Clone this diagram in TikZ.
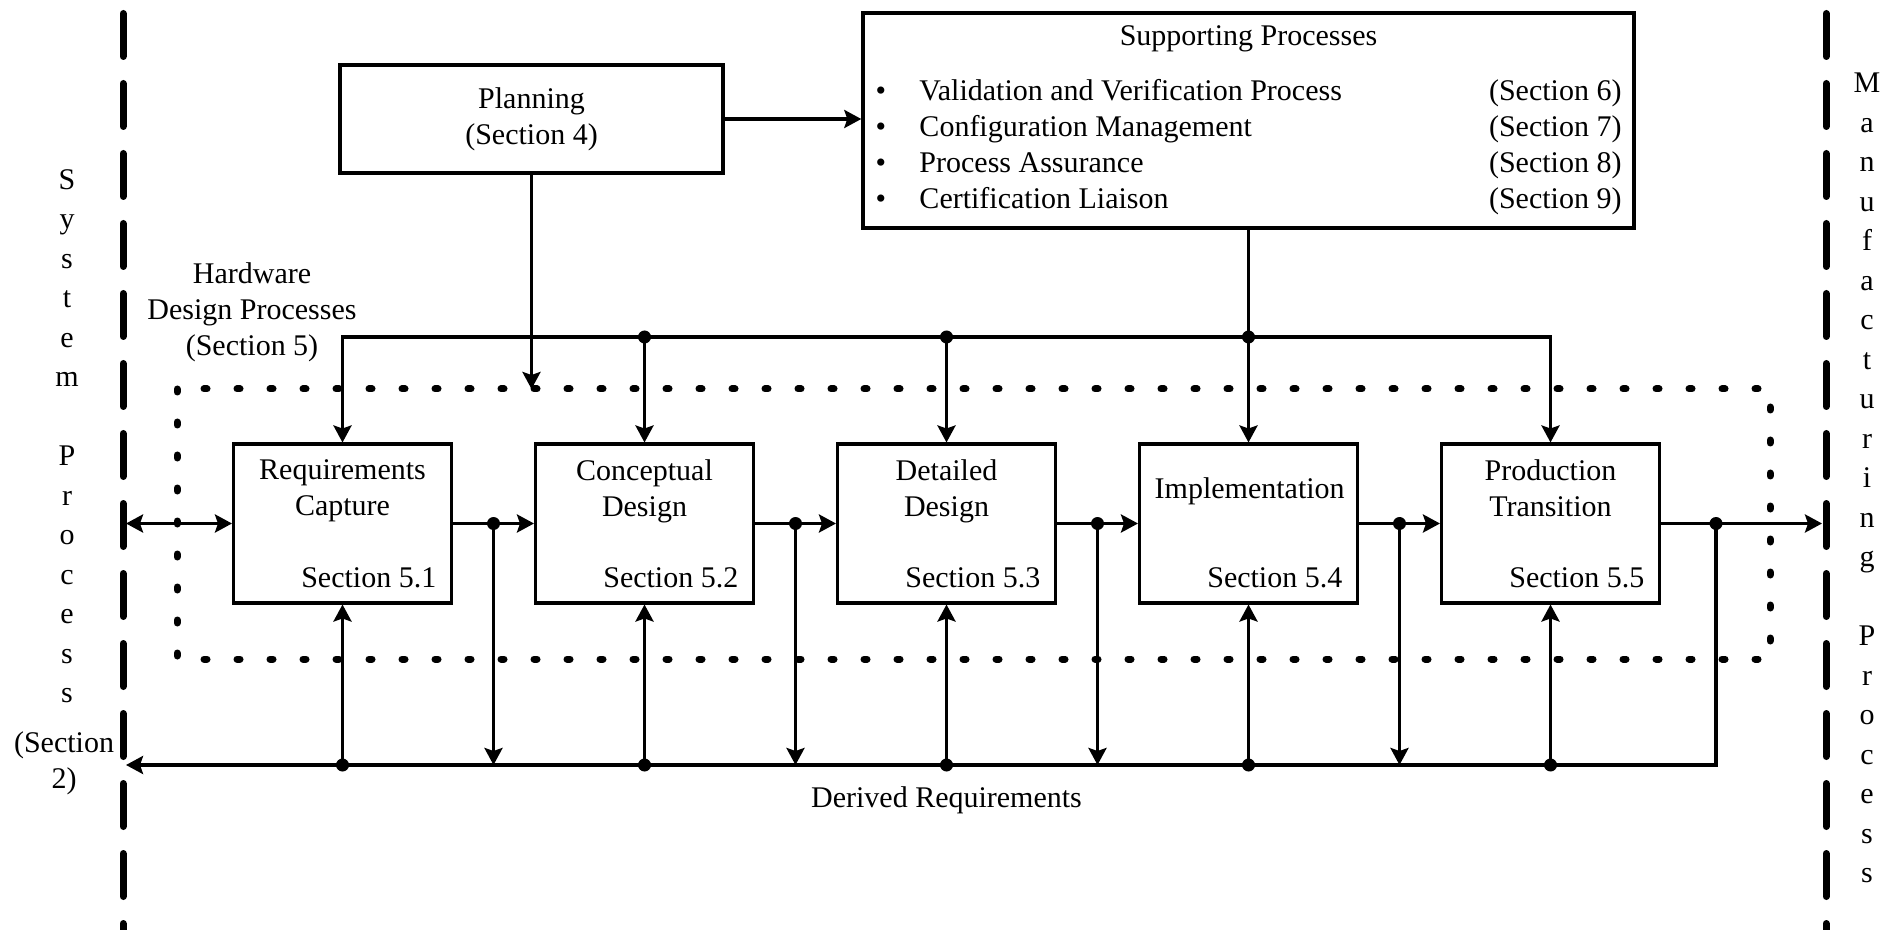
\documentclass[tikz,border=0pt]{standalone}
\usepackage{fontspec}
\setmainfont{Liberation Serif}
\usetikzlibrary{arrows.meta}

\tikzset{
  >={Stealth[length=8.5pt,width=9pt,inset=1.5pt]},
  link/.style={line width=1.7pt},
  stage/.style={draw,line width=1.7pt,inner sep=7.5pt},
  frontier/.style={line width=3.5pt,line cap=round,dash pattern=on 21.5pt off 13.5pt},
  hwbound/.style={line width=3.5pt,line cap=round,dash pattern=on 1.5pt off 15pt},
}
\newcommand{\stagetext}[2]{\parbox[c][64.3pt][t]{93.8pt}{\centering #1\par\vfill\raggedleft #2\par}}
\newcommand{\suppitem}[2]{\makebox[373pt][l]{\makebox[22pt][l]{\textbullet}#1\hfill(Section #2)}}

\begin{document}
\begin{tikzpicture}[x=0.5pt,y=-0.5pt,node distance=151pt,font=\fontsize{15}{18}\selectfont]
\useasboundingbox (0,0) rectangle (1895,930);

% process boundaries
\coordinate (sys) at (123,13.5);
\coordinate (mfg) at (1826,13.5);
\draw[frontier] (sys) -- ++(0,930);
\draw[frontier] (mfg) -- ++(0,930);
\coordinate (sysedge) at (126,0);
\coordinate (mfgedge) at (1822,0);
\node[align=center,inner sep=0pt,font=\fontsize{15}{19.75}\selectfont] (sysproc) at (67,436) {S\\y\\s\\t\\e\\m\\[19.75pt]P\\r\\o\\c\\e\\s\\s};
\node[align=center,inner sep=0pt] (syssec) at (64,763) {(Section\\2)};
\node[align=center,inner sep=0pt,font=\fontsize{15}{19.75}\selectfont] (mfgproc) at (1867,478) {M\\a\\n\\u\\f\\a\\c\\t\\u\\r\\i\\n\\g\\[19.75pt]P\\r\\o\\c\\e\\s\\s};

% hardware design processes
\draw[hwbound] (177,389) rectangle (1770,659);
\coordinate (hwtop) at (0,389);
\node[align=center] (hwlabel) at (252,312) {Hardware\\Design Processes\\(Section 5)};

\node[stage] (req) at (342.5,523.5) {\stagetext{Requirements\\Capture}{Section 5.1}};
\node[stage,right of=req] (con) {\stagetext{Conceptual\\Design}{Section 5.2}};
\node[stage,right of=con] (det) {\stagetext{Detailed\\Design}{Section 5.3}};
\node[stage,right of=det] (imp) {\stagetext{\raisebox{-9pt}[\height][0pt]{Implementation}}{Section 5.4}};
\node[stage,right of=imp] (prod) {\stagetext{Production\\Transition}{Section 5.5}};

% planning and supporting processes
\node[draw,line width=1.7pt,minimum width=191.5pt,minimum height=54pt,align=center] (plan) at (531.5,119) {Planning\\(Section 4)};
\node[draw,line width=1.7pt,minimum width=385.5pt,minimum height=107.5pt,align=center] (supp) at (1248.5,120.5) {%
  \makebox[373pt]{Supporting Processes}\\[9.5pt]
  \suppitem{Validation and Verification Process}{6}\\
  \suppitem{Configuration Management}{7}\\
  \suppitem{Process Assurance}{8}\\
  \suppitem{Certification Liaison}{9}};

\draw[link,->] (plan.east) -- (plan.east -| supp.west);
\draw[link,->] (plan.south) -- (plan.south |- hwtop);

% top bus
\coordinate (tb) at (0,337);
\draw[link,<->] (req.north) -- (req.north |- tb) -- (prod.north |- tb) -- (prod.north);
\foreach \n in {con,det}
  \draw[link,->] (\n.north |- tb) -- (\n.north);
\draw[link,->] (supp.south) -- (imp.north);
\foreach \n in {con,det,imp}
  \fill (\n.north |- tb) circle (3.25pt);

% main flow
\coordinate[right of=req,node distance=75.5pt] (j1);
\coordinate[right of=con,node distance=75.5pt] (j2);
\coordinate[right of=det,node distance=75.5pt] (j3);
\coordinate[right of=imp,node distance=75.5pt] (j4);
\coordinate[right of=prod,node distance=82.75pt] (j5);
\draw[link,<->] (sysedge |- req) -- (req.west);
\foreach \a/\b in {req/con,con/det,det/imp,imp/prod}
  \draw[link,->] (\a.east) -- (\b.west);
\draw[link,->] (prod.east) -- (mfgedge |- prod);

% derived requirements bus
\coordinate (bb) at (0,765);
\foreach \j in {j1,j2,j3,j4}
  \draw[link,->] (\j) -- (\j |- bb);
\draw[link,->] (j5) |- (sysedge |- bb);
\foreach \n in {req,con,det,imp,prod} {
  \draw[link,->] (\n.south |- bb) -- (\n.south);
  \fill (\n.south |- bb) circle (3.25pt);
}
\foreach \j in {j1,j2,j3,j4,j5}
  \fill (\j) circle (3.25pt);
\node[below of=det,node distance=138.5pt] (derived) {Derived Requirements};

\end{tikzpicture}
\end{document}
